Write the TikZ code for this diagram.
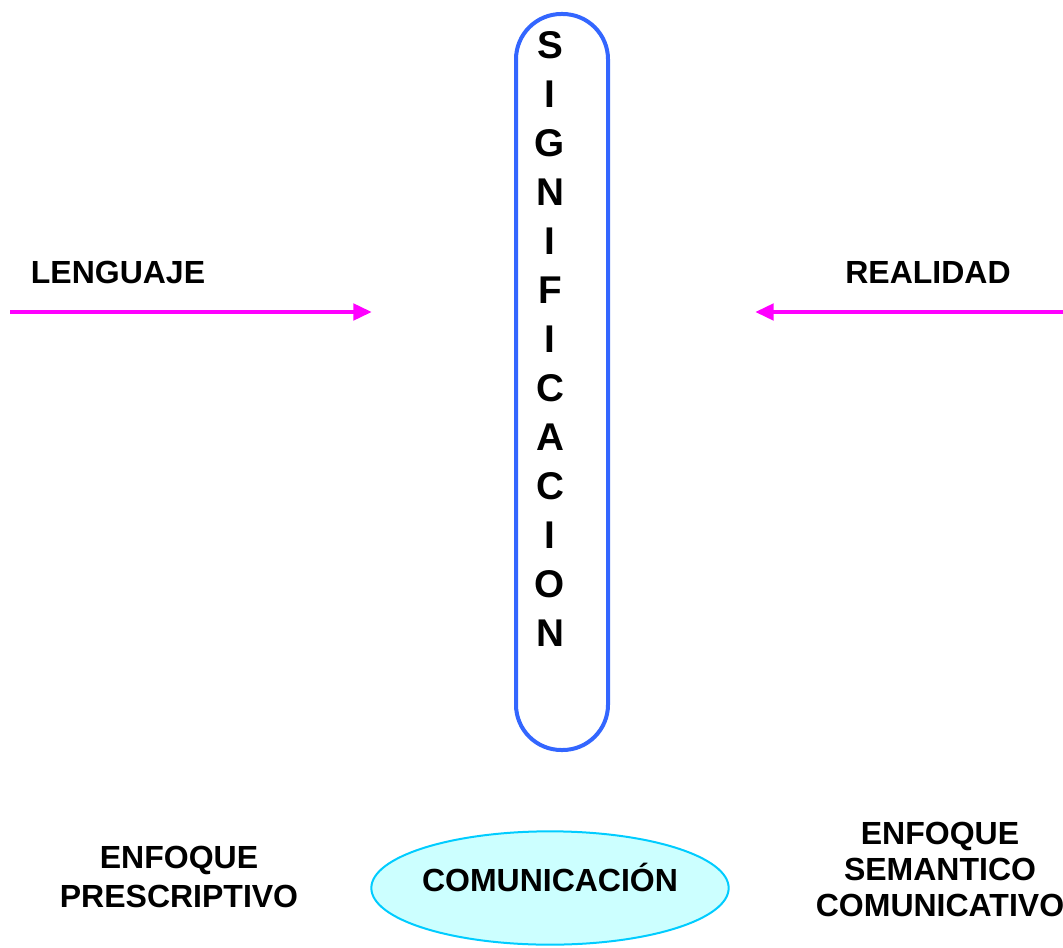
\documentclass[tikz,border=0pt]{standalone}
\usepackage{fontspec}
\setmainfont{Liberation Sans}
\usetikzlibrary{arrows.meta,shapes.geometric}
\definecolor{pillblue}{HTML}{3366FF}
\definecolor{mag}{HTML}{FF00FF}
\definecolor{cyanfill}{HTML}{CCFFFF}
\definecolor{cyanline}{HTML}{00CCFF}
\begin{document}
\begin{tikzpicture}[x=0.75pt,y=-0.75pt,
 lbl/.style={font=\fontsize{24}{27}\selectfont\bfseries, align=center, inner sep=0pt},
 letter/.style={font=\fontsize{29}{29}\selectfont\bfseries, inner sep=0pt},
 arr/.style={draw=mag, line width=3.6pt, -{Triangle[length=14pt,width=12pt]}}]
\useasboundingbox (0,0) rectangle (1063,948);
\clip (0,0) rectangle (1063,948);
\node[draw=pillblue, line width=3pt, rounded corners=34pt, minimum width=69pt, minimum height=552pt] (sig) at (562,382) {};
\foreach \l [count=\i from 0] in {S,I,G,N,I,F,I,C,A,C,I,O,N}
  \node[letter] (l\i) at (550,{45+49*\i}) {\l};
\node[lbl] (leng) at (118,272) {LENGUAJE};
\node[lbl] (real) at (928,272) {REALIDAD};
\coordinate (la) at (10,312);
\coordinate (lb) at (372,312);
\coordinate (ra) at (1063,312);
\coordinate (rb) at (755,312);
\draw[arr] (la) -- (lb);
\draw[arr] (ra) -- (rb);
\node[lbl, font=\fontsize{24}{29}\selectfont\bfseries] (pres) at (179,877) {ENFOQUE\\PRESCRIPTIVO};
\node[ellipse, draw=cyanline, fill=cyanfill, line width=1.5pt, minimum width=268pt, minimum height=85pt] (com) at (550,888) {};
\node[lbl] (comtxt) at (550,877) {COMUNICACIÓN};
\node[lbl] (sem) at (940,869) {ENFOQUE\\SEMANTICO\\COMUNICATIVO};
\end{tikzpicture}
\end{document}
